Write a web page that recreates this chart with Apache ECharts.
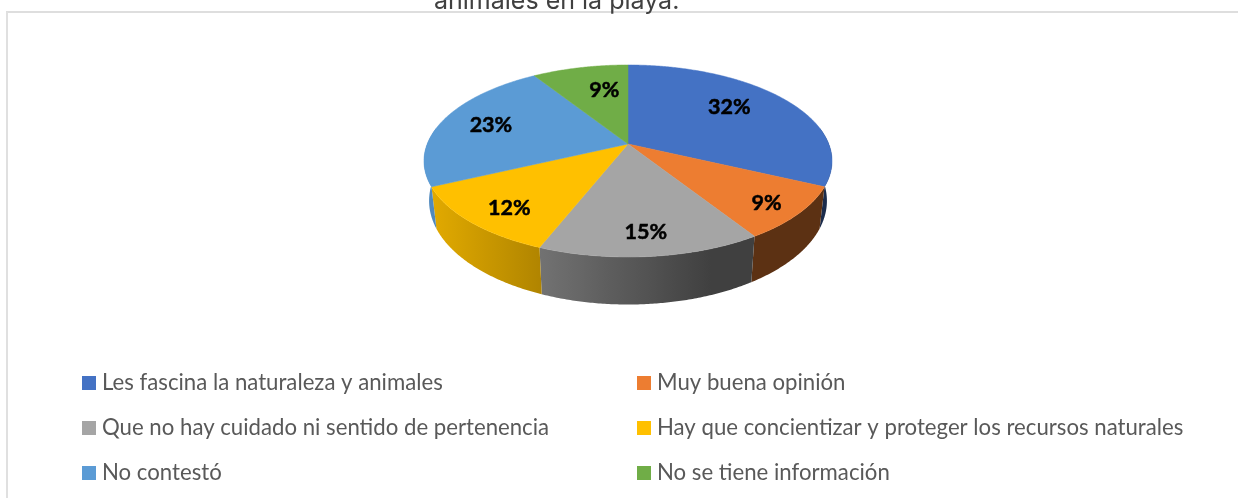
<!DOCTYPE html>
<html>
<head>
<meta charset="utf-8">
<style>html,body{margin:0;padding:0;background:#fff}#c{width:1238px;height:498px}</style>
<script src="https://cdn.jsdelivr.net/npm/echarts@6/dist/echarts.min.js"></script>
</head>
<body>
<div id="c"></div>
<script>
// ---- data ----
const titleTail = 'animales en la playa.';
const categories = [
  'Les fascina la naturaleza y animales',
  'Muy buena opinión',
  'Que no hay cuidado ni sentido de pertenencia',
  'Hay que concientizar y proteger los recursos naturales',
  'No contestó',
  'No se tiene información'
];
const values = [32, 9, 15, 12, 23, 9];
const colors = ['#4472C4', '#ED7D31', '#A5A5A5', '#FFC000', '#5B9BD5', '#70AD47'];

// ---- layout of the tilted disc (perspective projection of a unit circle) ----
const view = {cx: 628, apexY: 144, bx: 200.8, ay: 93, k: 0.177, fr: 204, baseScale: 0.975};
const labelRadius = [0.68, 0.82, 0.81, 0.80, 0.72, 0.67];
const labelNudge = [[-7, -5], [2, 3], [0, 1], [4, 4], [-3, -1], [10, 0]];

const total = values.reduce((a, b) => a + b, 0);
const toDeg = v => v / total * 360;
const startDeg = [];
values.reduce((acc, v, i) => { startDeg[i] = acc; return acc + toDeg(v); }, 0);

function proj(deg, r) {
  const t = deg * Math.PI / 180, u = r * Math.sin(t), v = -r * Math.cos(t), w = 1 - view.k * v;
  return [view.cx + view.bx * u / w, view.apexY + view.ay * v / w];
}
function base(p) {
  return [view.cx + (p[0] - view.cx) * view.baseScale, p[1] + 42 + (p[1] - 188) * 0.08];
}
function arc(a, b) {
  const n = Math.max(2, Math.ceil((b - a) * 2)), out = [];
  for (let i = 0; i <= n; i++) out.push(proj(a + (b - a) * i / n, 1));
  return out;
}
function shade(x) {
  const s = (x - view.cx) / view.fr;
  return s >= 0.4 ? 0.39 : 0.9 - (s + 1) * 0.51 / 1.4;
}
function dim(hex, f) {
  const n = parseInt(hex.slice(1), 16);
  return 'rgb(' + [n >> 16 & 255, n >> 8 & 255, n & 255].map(c => Math.round(c * f)).join(',') + ')';
}

function renderSlice(i) {
  const a = startDeg[i], b = a + toDeg(values[i]);
  const kids = [];
  const wa = Math.max(a, 80), wb = Math.min(b, 280);
  if (wb > wa) {
    const top = arc(wa, wb), bot = top.map(base).reverse();
    const pts = top.concat(bot);
    const xs = pts.map(p => p[0]), x0 = Math.min(...xs), x1 = Math.max(...xs);
    const stops = [];
    for (let s = 0; s <= 10; s++) {
      stops.push({offset: s / 10, color: dim(colors[i], shade(x0 + (x1 - x0) * s / 10))});
    }
    kids.push({type: 'polygon', z2: 1, shape: {points: pts},
      style: {fill: {type: 'linear', x: 0, y: 0, x2: 1, y2: 0, colorStops: stops}}});
  }
  const face = [[view.cx, view.apexY]].concat(arc(a, b));
  kids.push({type: 'polygon', z2: 2, shape: {points: face},
    style: {fill: colors[i], stroke: colors[i], lineWidth: 0.5}});
  const m = proj((a + b) / 2, labelRadius[i]);
  kids.push({type: 'text', z2: 3,
    x: m[0] + labelNudge[i][0], y: m[1] + labelNudge[i][1],
    style: {text: values[i] + '%', fill: '#000', stroke: '#000', lineWidth: 0.5,
      font: 'bold 21.5px Lato, "Open Sans", sans-serif',
      textAlign: 'center', textVerticalAlign: 'middle'}});
  return {type: 'group', children: kids};
}

const legendText = {fontFamily: 'Lato, "Open Sans", sans-serif', fontSize: 22.2, lineHeight: 24, color: '#595959',
  padding: [0, 0, 0, 1]};
const legendBase = {orient: 'vertical', icon: 'rect', itemWidth: 14, itemHeight: 14, itemGap: 21,
  selectedMode: false, textStyle: legendText, padding: 0, top: 371};

const chart = echarts.init(document.getElementById('c'), null, {renderer: 'canvas'});
chart.setOption({
  animation: false,
  backgroundColor: '#fff',
  title: {text: titleTail, left: 434, top: -11, padding: 0,
    textStyle: {fontFamily: 'Inter, sans-serif', fontWeight: 400, fontSize: 25, color: '#404040'}},
  legend: [
    Object.assign({}, legendBase, {left: 82, data: [categories[0], categories[2], categories[4]]}),
    Object.assign({}, legendBase, {left: 637, data: [categories[1], categories[3], categories[5]]})
  ],
  graphic: [
    {type: 'line', silent: true, shape: {x1: 6, y1: 12, x2: 1238, y2: 12}, style: {stroke: '#DEDEDE', lineWidth: 2}},
    {type: 'line', silent: true, shape: {x1: 7, y1: 12, x2: 7, y2: 498}, style: {stroke: '#E0E0E0', lineWidth: 2}}
  ],
  series: categories.map((name, i) => ({
    type: 'custom',
    name,
    coordinateSystem: 'none',
    silent: true,
    itemStyle: {color: colors[i]},
    data: [[values[i]]],
    renderItem: () => renderSlice(i)
  }))
});
</script>
</body>
</html>
